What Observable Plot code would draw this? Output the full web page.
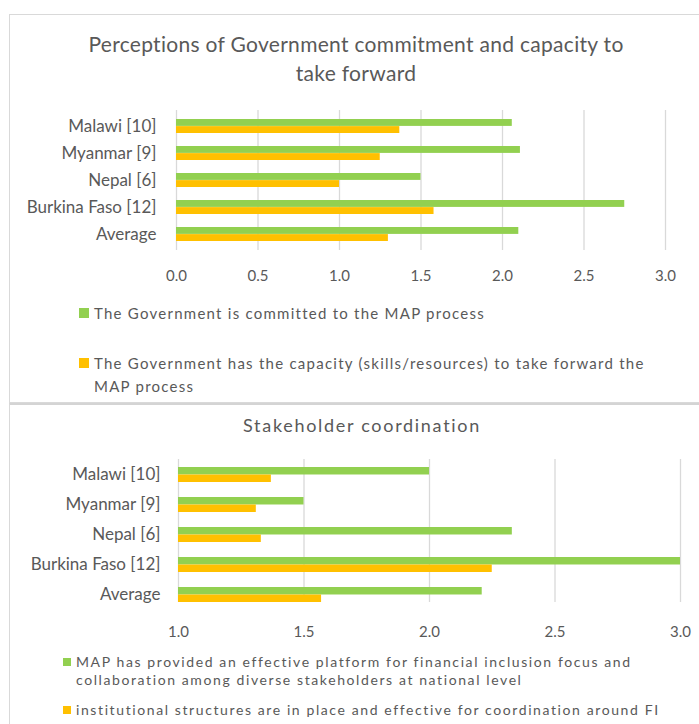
<!DOCTYPE html>
<html><head><meta charset="utf-8">
<script src="https://cdn.jsdelivr.net/npm/d3@7"></script>
<script src="https://cdn.jsdelivr.net/npm/@observablehq/plot@0.6"></script>
<style>
body{margin:0;background:#fff;font-family:Lato,"Open Sans",sans-serif;color:#595959;}
#root{position:relative;width:699px;height:724px;overflow:hidden;background:#fff;}
.panel{position:absolute;background:#fff;}
.abs{position:absolute;}
.title{position:absolute;text-align:center;color:#595959;}
.leg{position:absolute;display:flex;align-items:flex-start;color:#595959;}
.sw{flex:none;}
</style></head><body><div id="root"></div>
<script>
const categories = ["Malawi [10]", "Myanmar [9]", "Nepal [6]", "Burkina Faso [12]", "Average"];

const govTitle = "Perceptions of Government commitment and capacity to take forward";
const govSeries = ["The Government is committed to the MAP process",
  "The Government has the capacity (skills/resources) to take forward the MAP process"];
const govCommitted = [2.06, 2.11, 1.50, 2.75, 2.10];
const govCapacity = [1.37, 1.25, 1.00, 1.58, 1.30];
const govTicks = [0, 0.5, 1.0, 1.5, 2.0, 2.5, 3.0];

const stakeTitle = "Stakeholder coordination";
const stakeSeries = ["MAP has provided an effective platform for financial inclusion focus and collaboration among diverse stakeholders at national level",
  "institutional structures are in place and effective for coordination around FI"];
const stakePlatform = [2.00, 1.50, 2.33, 3.00, 2.21];
const stakeStructures = [1.37, 1.31, 1.33, 2.25, 1.57];
const stakeTicks = [1.0, 1.5, 2.0, 2.5, 3.0];

const colors = ["#92D050", "#FFC000"];

const root = document.getElementById("root");

function el(tag, cls, css, text) {
  const e = document.createElement(tag);
  if (cls) e.className = cls;
  Object.assign(e.style, css || {});
  if (text != null) e.textContent = text;
  root.appendChild(e);
  return e;
}

function chart(o) {
  const lo = o.ticks[0], hi = o.ticks[o.ticks.length - 1];
  const yOpts = {domain: categories, paddingInner: o.pi, paddingOuter: o.po, align: o.al};
  // half of the band, as Plot's band scale will compute it
  const half = d3.scaleBand().domain(categories).range([o.mt, o.height - o.mb])
    .paddingInner(o.pi).paddingOuter(o.po).align(o.al).bandwidth() / 2;
  const d1 = categories.map((c, i) => ({cat: c, v: o.v1[i]}));
  const d2 = categories.map((c, i) => ({cat: c, v: o.v2[i]}));
  const svg = Plot.plot({
    width: 699, height: o.height,
    marginTop: o.mt, marginBottom: o.mb, marginLeft: o.ml, marginRight: o.mr,
    style: {fontFamily: "Lato, 'Open Sans', sans-serif", fontSize: "15px", color: "#595959", background: "transparent", overflow: "visible"},
    x: {domain: [lo, hi], ticks: o.ticks, tickFormat: d3.format(".1f"), tickSize: 0, tickPadding: o.tp, label: null},
    y: {...yOpts, axis: "left", label: null, tickSize: 0, tickPadding: o.lp},
    marks: [
      Plot.ruleX(o.ticks, {stroke: "#d9d9d9", strokeWidth: 1.3}),
      Plot.barX(d1, {x1: d => lo, x2: "v", y: "cat", fill: colors[0], insetBottom: half}),
      Plot.barX(d2, {x1: d => lo, x2: "v", y: "cat", fill: colors[1], insetTop: half})
    ]
  });
  d3.select(svg).selectAll('g[aria-label="y-axis tick label"]').attr("font-size", o.yfs);
  return svg;
}

// Panel 1
el("div", "panel", {left: "9px", top: "14px", width: "700px", height: "387px", border: "1px solid #d9d9d9"});
el("div", "title", {left: "76px", top: "29px", width: "560px", fontSize: "21px", lineHeight: "29px", letterSpacing: "0.3px"}, govTitle);
const c1 = chart({v1: govCommitted, v2: govCapacity, series: govSeries, ticks: govTicks,
  height: 190, mt: 10, mb: 40, ml: 176, mr: 34, tp: 20, lp: 20, pi: 0.484, po: 0.287, al: 0.5, yfs: 17});
const w1 = el("div", "abs", {left: "0px", top: "100px"});
w1.appendChild(c1);

function legend(series, x, tops, sw, fs, lh, ls, maxW, swTop) {
  series.forEach((s, i) => {
    const item = el("div", "leg", {left: x + "px", top: tops[i] + "px", fontSize: fs + "px", lineHeight: lh + "px", letterSpacing: ls + "px"});
    const box = document.createElement("span");
    box.className = "sw";
    Object.assign(box.style, {width: sw + "px", height: sw + "px", background: colors[i], marginTop: swTop + "px", marginRight: "5px"});
    const t = document.createElement("span");
    t.textContent = s;
    t.style.maxWidth = maxW + "px";
    item.appendChild(box); item.appendChild(t);
  });
}
legend(govSeries, 79, [302, 352], 10, 15, 23, 1.25, 560, 6);

// Panel 2
el("div", "panel", {left: "9px", top: "403px", width: "700px", height: "330px", borderLeft: "1px solid #d9d9d9", borderTop: "2px solid #d4d4d4"});
el("div", "title", {left: "60px", top: "414px", width: "604px", fontSize: "18px", lineHeight: "22px", letterSpacing: "1.7px"}, stakeTitle);
const c2 = chart({v1: stakePlatform, v2: stakeStructures, series: stakeSeries, ticks: stakeTicks,
  height: 193, mt: 10, mb: 40, ml: 178, mr: 19, tp: 24, lp: 18, pi: 0.504, po: 0.1155, al: 1, yfs: 17});
const w2 = el("div", "abs", {left: "0px", top: "449px"});
w2.appendChild(c2);
legend(stakeSeries, 63, [653, 701], 8, 14, 18, 1.6, 600, 5);
</script>
</body></html>
